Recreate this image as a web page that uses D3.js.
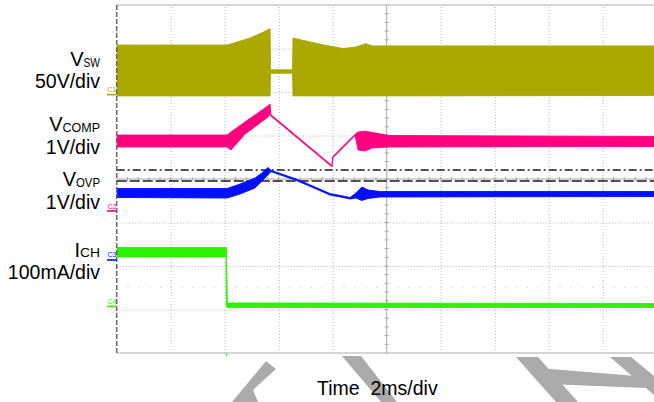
<!DOCTYPE html>
<html><head><meta charset="utf-8">
<script src="https://cdn.jsdelivr.net/npm/d3@7"></script>
<style>
body{margin:0;background:#fff;}
svg{display:block;font-family:"Liberation Sans",Arial,Helvetica,sans-serif;}
</style>
</head><body>
<svg id="c" width="654" height="402"></svg>
<script>
// ---- data: time in ms (2 ms/div), amplitude in divisions from screen centre ----
const vswT  = [0, 4.09, 4.94, 5.38, 5.68, 5.70, 6.51, 6.53, 7.53, 8.38, 8.83, 9.23, 9.46, 20];
const vswHi = [3.08, 3.08, 3.24, 3.36, 3.46, 2.51, 2.51, 3.24, 3.10, 3.00, 3.03, 3.11, 3.06, 3.06];
const vswLo = [1.91, 1.91, 1.91, 1.91, 1.91, 2.43, 2.43, 1.91, 1.91, 1.91, 1.91, 1.91, 1.91, 1.92];

const compT  = [0, 4.09, 4.23, 4.75, 5.60, 5.68, 5.71, 7.97, 8.01, 8.83, 8.94, 9.20, 9.46, 10.12, 20];
const compHi = [1.011, 1.011, 1.08, 1.31, 1.68, 1.72, 1.48, 0.31, 0.52, 1.03, 1.08, 1.10, 1.07, 1.00, 0.977];
const compLo = [0.736, 0.736, 0.667, 1.03, 1.425, 1.49, 1.45, 0.28, 0.49, 1.00, 0.667, 0.644, 0.713, 0.736, 0.747];

const ovpT  = [0, 4.09, 4.57, 5.12, 5.38, 5.60, 5.71, 6.68, 7.90, 8.38, 8.64, 8.86, 9.08, 9.31, 9.75, 20];
const ovpHi = [-0.218, -0.218, -0.115, 0.023, 0.138, 0.264, 0.20, -0.006, -0.335, -0.39, -0.427, -0.322, -0.184, -0.253, -0.287, -0.287];
const ovpLo = [-0.425, -0.437, -0.345, -0.207, -0.046, 0.092, 0.17, -0.04, -0.369, -0.424, -0.461, -0.437, -0.494, -0.448, -0.414, -0.402];

const ichT  = [0, 4.05, 4.06, 4.10, 20];
const ichHi = [-1.575, -1.575, -1.575, -2.85, -2.862];
const ichLo = [-1.793, -1.793, -2.93, -2.954, -2.954];

const cursorDashDot = 0.207;
const cursorDash = -0.046;
const cursorDotted = -2.49;

const markerLabels = ["C1", "C2", "C3", "C4"];
const markerLevels = [1.94, -0.736, -1.862, -2.93];
const triggerTime = 4.07;

const chMain  = ["V", "V", "V", "I"];
const chSub   = ["SW", "COMP", "OVP", "CH"];
const chScale = ["50V/div", "1V/div", "1V/div", "100mA/div"];
const timeLabel = "Time  2ms/div";

// ---- styling / layout ----
const colors = ["#aba800", "#ff0080", "#0010ff", "#2cf400"];
const svg = d3.select("#c");
const x = d3.scaleLinear().domain([0, 20]).range([116.7, 656.7]);
const y = d3.scaleLinear().domain([-4, 4]).range([353, 5]);
const L = 116.7, R = 654, T = 5, B = 353;

// watermark fragments visible below the graticule
const wm = [
  [[266,361],[276,369],[253,390],[258,402],[232,402]],
  [[342,356],[361,356],[397,402],[381,402]],
  [[516,357],[538,357],[578,402],[556,402]],
  [[538,368],[636,376],[646,388],[548,384]],
  [[610,357],[631,357],[654,376],[654,395]]
];
svg.append("g").selectAll("polygon").data(wm).join("polygon")
  .attr("points", d => d.map(p => p.join(",")).join(" "))
  .attr("fill", "#ababab");

svg.append("defs").append("clipPath").attr("id", "clip")
  .append("rect").attr("x", L).attr("y", T - 1).attr("width", R - L).attr("height", B - T + 2);

const plot = svg.append("g").attr("clip-path", "url(#clip)");

// graticule via axes
const gx = plot.append("g").attr("transform", `translate(0,${B})`)
  .call(d3.axisBottom(x).tickValues(d3.range(2, 20, 2).filter(v => v !== 10)).tickSize(-(B - T)).tickFormat(""));
const gy = plot.append("g").attr("transform", `translate(${L},0)`)
  .call(d3.axisLeft(y).tickValues([-3, -2, -1, 1, 2, 3]).tickSize(-(R - L)).tickFormat(""));
[gx, gy].forEach(g => {
  g.select(".domain").remove();
  g.selectAll("line").attr("stroke", "#b4b4b4").attr("stroke-width", 1).attr("stroke-dasharray", "1,2");
});

// centre lines with minor ticks
plot.append("line").attr("x1", x(10)).attr("x2", x(10)).attr("y1", T).attr("y2", B)
  .attr("stroke", "#a8a8a8").attr("stroke-width", 1);
plot.append("line").attr("x1", L).attr("x2", R).attr("y1", y(0)).attr("y2", y(0))
  .attr("stroke", "#a8a8a8").attr("stroke-width", 1);
plot.append("g").selectAll("line").data(d3.range(-4, 4.01, 0.2)).join("line")
  .attr("x1", x(10) - 2).attr("x2", x(10) + 2).attr("y1", d => y(d)).attr("y2", d => y(d))
  .attr("stroke", "#a8a8a8");
plot.append("g").selectAll("line").data(d3.range(0, 20.01, 0.4)).join("line")
  .attr("x1", d => x(d)).attr("x2", d => x(d)).attr("y1", y(0) - 2).attr("y2", y(0) + 2)
  .attr("stroke", "#a8a8a8");

// borders
svg.append("line").attr("x1", L).attr("x2", R).attr("y1", T).attr("y2", T).attr("stroke", "#c8c8c8").attr("stroke-width", 1.5);
svg.append("line").attr("x1", L).attr("x2", R).attr("y1", B).attr("y2", B).attr("stroke", "#c8c8c8").attr("stroke-width", 1.5);
svg.append("line").attr("x1", L).attr("x2", L).attr("y1", T).attr("y2", B).attr("stroke", "#666").attr("stroke-width", 1.5).attr("stroke-dasharray", "5,2");

// cursors
plot.append("line").attr("x1", L).attr("x2", R).attr("y1", y(cursorDashDot)).attr("y2", y(cursorDashDot))
  .attr("stroke", "#1a1a1a").attr("stroke-width", 1.3).attr("stroke-dasharray", "8,3,2,3");
plot.append("line").attr("x1", L).attr("x2", R).attr("y1", y(cursorDash)).attr("y2", y(cursorDash))
  .attr("stroke", "#1a1a1a").attr("stroke-width", 1.3).attr("stroke-dasharray", "10,3");
plot.append("line").attr("x1", L).attr("x2", R).attr("y1", y(cursorDotted)).attr("y2", y(cursorDotted))
  .attr("stroke", "#c4c4c4").attr("stroke-width", 1).attr("stroke-dasharray", "1,9.8");

// traces
const traces = [
  [vswT, vswHi, vswLo],
  [compT, compHi, compLo],
  [ovpT, ovpHi, ovpLo],
  [ichT, ichHi, ichLo]
];
const area = d3.area().x(d => x(d[0])).y0(d => y(d[2])).y1(d => y(d[1]));
traces.forEach((tr, i) => {
  const pts = tr[0].map((t, k) => [t, tr[1][k], tr[2][k]]);
  plot.append("path").datum(pts).attr("d", area)
    .attr("fill", colors[i]).attr("stroke", colors[i]).attr("stroke-width", 0.9).attr("stroke-linejoin", "round");
});

// channel ground markers
markerLevels.forEach((lv, i) => {
  svg.append("line").attr("x1", 107).attr("x2", L).attr("y1", y(lv)).attr("y2", y(lv))
    .attr("stroke", colors[i]).attr("stroke-width", 1.6);
  svg.append("text").attr("x", 107.5).attr("y", y(lv) - 2.5).attr("font-size", 7)
    .attr("fill", colors[i]).text(markerLabels[i]);
});
svg.append("line").attr("x1", x(triggerTime)).attr("x2", x(triggerTime)).attr("y1", B + 0.5).attr("y2", B + 3)
  .attr("stroke", colors[3]).attr("stroke-width", 1.2);

// channel labels
const mainBase = [66, 131, 186, 256.5];
const scaleBase = [87.5, 154, 209, 278.5];
const subW = [16.5, 37.5, 24, 20];
chMain.forEach((m, i) => {
  svg.append("text").attr("x", 100).attr("y", mainBase[i] + 0.5).attr("text-anchor", "end")
    .attr("font-size", 12).attr("textLength", subW[i]).attr("lengthAdjust", "spacingAndGlyphs")
    .attr("fill", "#000").text(chSub[i]);
  svg.append("text").attr("x", 100 - subW[i]).attr("y", mainBase[i]).attr("text-anchor", "end")
    .attr("font-size", 20).attr("fill", "#000").text(m);
  svg.append("text").attr("x", 100).attr("y", scaleBase[i]).attr("text-anchor", "end")
    .attr("font-size", 19.5).attr("fill", "#000").text(chScale[i]);
});
svg.append("text").attr("x", 317).attr("y", 395).attr("font-size", 19.5)
  .style("white-space", "pre").attr("fill", "#000").text(timeLabel);
</script>
</body></html>
